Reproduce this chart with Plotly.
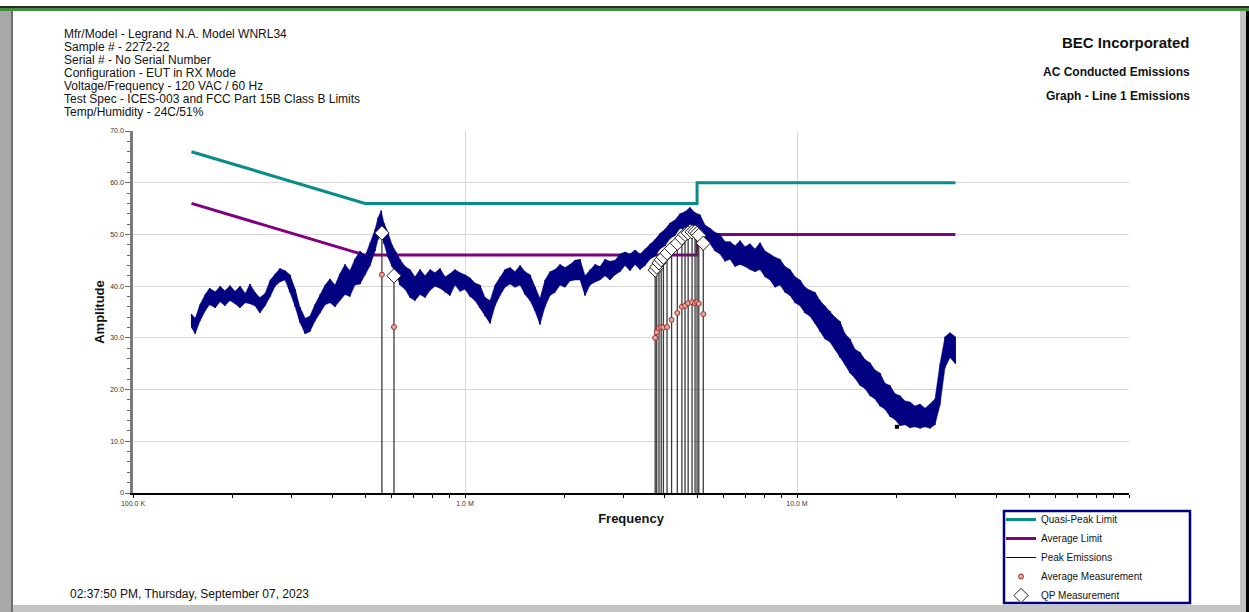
import plotly.graph_objects as go

# ---------------------------------------------------------------------------
# Peak scan (frequency in MHz, lower / upper edge of the noisy trace in dBuV)
# ---------------------------------------------------------------------------
peak_freq_mhz = [
    0.150, 0.154, 0.159, 0.165, 0.170, 0.177, 0.183, 0.189, 0.196, 0.203,
    0.210, 0.218, 0.225, 0.233, 0.241, 0.250, 0.259, 0.268, 0.277, 0.287,
    0.297, 0.308, 0.318, 0.330, 0.341, 0.353, 0.366, 0.379, 0.392, 0.406,
    0.420, 0.435, 0.450, 0.466, 0.483, 0.500, 0.518, 0.536, 0.547, 0.559,
    0.570, 0.586, 0.603, 0.620, 0.637, 0.660, 0.683, 0.707, 0.732, 0.758,
    0.785, 0.812, 0.841, 0.871, 0.901, 0.933, 0.966, 1.000, 1.035, 1.072,
    1.110, 1.149, 1.190, 1.232, 1.275, 1.320, 1.367, 1.415, 1.465, 1.516,
    1.570, 1.625, 1.682, 1.742, 1.803, 1.867, 1.933, 2.001, 2.072, 2.145,
    2.221, 2.299, 2.380, 2.464, 2.551, 2.641, 2.734, 2.831, 2.931, 3.034,
    3.141, 3.252, 3.367, 3.486, 3.608, 3.736, 3.867, 4.004, 4.145, 4.291,
    4.443, 4.599, 4.762, 4.930, 5.104, 5.284, 5.470, 5.663, 5.863, 6.070,
    6.284, 6.506, 6.735, 6.973, 7.219, 7.474, 7.737, 8.010, 8.293, 8.585,
    8.888, 9.202, 9.526, 9.862, 10.21, 10.57, 10.94, 11.33, 11.73, 12.14,
    12.57, 13.01, 13.47, 13.95, 14.44, 14.95, 15.48, 16.02, 16.59, 17.17,
    17.78, 18.41, 19.06, 19.73, 20.43, 21.15, 21.89, 22.67, 23.47, 24.30,
    25.15, 26.04, 26.96, 27.91, 28.90, 30.00,
]
peak_low_db = [
    32.0, 30.8, 33.2, 35.2, 36.4, 35.8, 37.0, 36.2, 37.2, 36.6,
    35.8, 36.8, 36.6, 36.2, 34.8, 36.2, 38.0, 40.0, 40.8, 41.2,
    38.8, 36.0, 33.0, 30.8, 31.2, 33.2, 34.8, 36.4, 36.8, 36.0,
    37.2, 38.4, 38.0, 40.2, 40.4, 42.2, 44.0, 46.8, 49.0, 50.2,
    48.2, 45.6, 43.8, 42.4, 40.2, 39.4, 37.8, 37.2, 38.4, 37.8,
    39.2, 40.0, 39.6, 38.8, 38.2, 40.2, 39.0, 39.4, 38.0, 37.2,
    35.8, 34.2, 32.8, 36.2, 38.2, 39.8, 40.4, 39.8, 40.2, 38.4,
    37.2, 35.2, 32.6, 36.0, 38.2, 38.8, 40.2, 39.8, 41.0, 41.2,
    41.2, 38.2, 40.2, 40.8, 41.2, 42.0, 41.2, 42.2, 42.8, 44.0,
    43.0, 44.2, 43.2, 44.0, 45.2, 45.8, 47.2, 47.8, 49.2, 49.8,
    51.2, 50.8, 52.0, 51.2, 50.2, 48.8, 48.2, 46.8, 46.2, 44.8,
    45.2, 43.8, 44.2, 43.8, 43.2, 42.8, 43.2, 41.8, 41.2, 39.8,
    40.2, 38.8, 38.2, 36.8, 36.2, 34.8, 34.2, 32.8, 31.2, 29.8,
    29.2, 27.8, 26.2, 24.8, 23.2, 22.2, 20.8, 20.2, 18.8, 18.2,
    16.8, 16.2, 14.8, 14.2, 13.0, 13.2, 12.6, 12.8, 12.5, 12.8,
    12.5, 13.2, 17.0, 24.2, 26.2, 25.0,
]
peak_high_db = [
    34.6, 33.8, 36.4, 38.4, 39.6, 38.9, 40.0, 39.1, 40.1, 39.0,
    40.0, 38.6, 40.4, 38.8, 37.8, 38.6, 41.2, 42.4, 43.4, 43.0,
    42.2, 39.4, 36.0, 33.8, 34.2, 36.4, 38.4, 40.2, 41.4, 40.2,
    42.4, 44.2, 43.0, 45.2, 46.8, 45.8, 48.4, 51.0, 53.2, 54.6,
    52.2, 50.4, 48.0, 46.6, 45.2, 43.8, 43.2, 41.8, 43.2, 42.0,
    43.2, 42.6, 43.4, 41.8, 42.4, 43.2, 42.6, 42.2, 41.6, 40.6,
    40.2, 37.8, 37.2, 40.2, 41.8, 43.2, 43.6, 42.8, 44.0, 42.8,
    42.2, 39.8, 37.6, 41.2, 42.8, 43.2, 44.2, 43.6, 44.2, 45.0,
    45.2, 42.0, 43.2, 44.2, 43.8, 45.2, 44.8, 45.0, 46.2, 46.6,
    46.2, 47.0, 46.2, 47.2, 48.2, 49.0, 50.2, 51.0, 52.2, 52.8,
    54.0, 54.4, 55.2, 54.2, 53.8, 51.8, 51.2, 50.4, 50.0, 48.6,
    48.6, 47.8, 48.8, 47.6, 48.2, 47.2, 48.4, 46.8, 46.2, 45.6,
    45.2, 43.8, 43.2, 41.8, 41.2, 39.8, 39.2, 38.8, 37.2, 36.2,
    35.2, 34.0, 33.2, 30.8, 29.8, 27.8, 27.2, 25.8, 25.2, 23.8,
    23.2, 21.2, 20.8, 19.2, 18.8, 17.8, 17.6, 16.8, 17.2, 16.4,
    17.2, 18.2, 25.0, 30.2, 31.0, 30.2,
]

# Regulatory limit lines (ICES-003 / FCC Part 15B Class B, conducted)
qp_limit_freq_mhz = [0.15, 0.5, 5.0, 5.0, 30.0]
qp_limit_db = [66, 56, 56, 60, 60]
avg_limit_freq_mhz = [0.15, 0.5, 5.0, 5.0, 30.0]
avg_limit_db = [56, 46, 46, 50, 50]

# Final measurements at the selected frequencies
meas_freq_mhz = [0.562, 0.611, 3.74, 3.78, 3.84, 3.90, 3.96, 4.06, 4.19,
                 4.36, 4.50, 4.60, 4.70, 4.83, 4.93, 5.00, 5.06, 5.22]
qp_meas_db = [50.3, 42.0, 43.1, 43.7, 44.5, 45.1, 45.6, 46.4, 47.3,
              48.3, 49.3, 50.0, 50.3, 50.5, 50.5, 50.2, 49.8, 48.3]
avg_meas_db = [42.2, 32.1, 30.0, 31.1, 31.9, 32.1, 32.0, 32.1, 33.5,
               34.8, 36.0, 36.2, 36.7, 36.9, 36.7, 36.9, 36.6, 34.6]

# Isolated marker on the scan floor
floor_mark_mhz = [20.0]
floor_mark_db = [12.8]

x_major_vals = [0.1, 1.0, 10.0, 100.0]
x_major_text = ["100.0 K", "1.0 M", "10.0 M", ""]
y_major_vals = [0, 10, 20, 30, 40, 50, 60, 70]
y_major_text = ["0", "10.0", "20.0", "30.0", "40.0", "50.0", "60.0", "70.0"]

header_lines = [
    "Mfr/Model - Legrand N.A. Model WNRL34",
    "Sample # - 2272-22",
    "Serial # - No Serial Number",
    "Configuration - EUT in RX Mode",
    "Voltage/Frequency - 120 VAC / 60 Hz",
    "Test Spec - ICES-003 and FCC Part 15B Class B Limits",
    "Temp/Humidity - 24C/51%",
]
company = "BEC Incorporated"
test_name = "AC Conducted Emissions"
graph_name = "Graph - Line 1 Emissions"
timestamp = "02:37:50 PM, Thursday, September 07, 2023"

# ---------------------------------------------------------------------------
W, H = 1249, 612
PL, PR, PT, PB = 133, 1129, 131, 493   # plot area in pixels
FONT = "Arial, 'Liberation Sans', sans-serif"
NAVY = "#000080"
TEAL = "#0a8c8a"
PURPLE = "#800080"


def px(xp):
    return (xp - PL) / (PR - PL)


def py(yp):
    return (PB - yp) / (PB - PT)


fig = go.Figure()

fig.add_trace(go.Scatter(
    x=qp_limit_freq_mhz, y=qp_limit_db, mode="lines", name="Quasi-Peak Limit",
    line=dict(color=TEAL, width=3)))
fig.add_trace(go.Scatter(
    x=avg_limit_freq_mhz, y=avg_limit_db, mode="lines", name="Average Limit",
    line=dict(color=PURPLE, width=3)))

# Peak trace: solid band between the two edges, with a saw-tooth stroke on top
fig.add_trace(go.Scatter(
    x=peak_freq_mhz, y=peak_low_db, mode="lines", line=dict(width=0.5, color=NAVY),
    showlegend=False, hoverinfo="skip"))
fig.add_trace(go.Scatter(
    x=peak_freq_mhz, y=peak_high_db, mode="lines", line=dict(width=0.5, color=NAVY),
    fill="tonexty", fillcolor=NAVY, showlegend=False, hoverinfo="skip"))

saw_x, saw_y = [], []
for f, lo, hi in zip(peak_freq_mhz, peak_low_db, peak_high_db):
    saw_x += [f, f]
    saw_y += [lo, hi]
fig.add_trace(go.Scatter(
    x=saw_x, y=saw_y, mode="lines", name="Peak Emissions",
    line=dict(color=NAVY, width=1)))

fig.add_trace(go.Scatter(
    x=floor_mark_mhz, y=floor_mark_db, mode="markers", showlegend=False,
    marker=dict(symbol="square", size=4, color="black")))

# Stems from the axis up to each QP reading
stem_x, stem_y = [], []
for f, q in zip(meas_freq_mhz, qp_meas_db):
    stem_x += [f, f, None]
    stem_y += [0, q, None]
fig.add_trace(go.Scatter(
    x=stem_x, y=stem_y, mode="lines", showlegend=False, hoverinfo="skip",
    line=dict(color="#3a3a3a", width=1.3)))

fig.add_trace(go.Scatter(
    x=meas_freq_mhz, y=avg_meas_db, mode="markers", name="Average Measurement",
    marker=dict(symbol="circle", size=5, color="#e7a8a0",
                line=dict(color="#a0302a", width=1))))
fig.add_trace(go.Scatter(
    x=meas_freq_mhz, y=qp_meas_db, mode="markers", name="QP Measurement",
    marker=dict(symbol="diamond", size=11, color="white",
                line=dict(color="#202020", width=1))))

fig.update_xaxes(
    type="log", range=[-1, 2],
    tickmode="array", tickvals=x_major_vals, ticktext=x_major_text,
    ticks="outside", ticklen=3, tickcolor="black", tickwidth=1,
    tickfont=dict(family=FONT, size=7, color="#333333"),
    showgrid=True, gridcolor="#d8d8d8", gridwidth=1,
    showline=True, linecolor="black", linewidth=1.5,
    zeroline=False,
    minor=dict(tickmode="array",
               tickvals=[m * d for d in (0.1, 1.0, 10.0) for m in range(2, 10)],
               ticks="outside", ticklen=3, tickcolor="black", showgrid=False),
    title=dict(text="<b>Frequency</b>", font=dict(family=FONT, size=13, color="#111"),
               standoff=8),
)
fig.update_yaxes(
    range=[0, 70],
    tickmode="array", tickvals=y_major_vals, ticktext=y_major_text,
    ticks="outside", ticklen=5, tickcolor="#666666", tickwidth=1,
    tickfont=dict(family=FONT, size=7, color="#333333"),
    showgrid=True, gridcolor="#d8d8d8", gridwidth=1,
    showline=True, linecolor="#7a7a7a", linewidth=2.5,
    zeroline=False,
    minor=dict(dtick=2, ticks="outside", ticklen=3, tickcolor="#666666",
               showgrid=False),
    title=dict(text="<b>Amplitude</b>", font=dict(family=FONT, size=13, color="#111"),
               standoff=3),
)

annotations = []
for i, line in enumerate(header_lines):
    annotations.append(dict(
        x=px(62), y=py(34 + 13 * i), xref="paper", yref="paper",
        text=line, showarrow=False, xanchor="left", yanchor="middle",
        font=dict(family=FONT, size=12, color="#111111")))
annotations.append(dict(
    x=px(1192), y=py(43), xref="paper", yref="paper", text="<b>%s</b>" % company,
    showarrow=False, xanchor="right", yanchor="middle",
    font=dict(family=FONT, size=15, color="#111111")))
annotations.append(dict(
    x=px(1192), y=py(72), xref="paper", yref="paper", text="<b>%s</b>" % test_name,
    showarrow=False, xanchor="right", yanchor="middle",
    font=dict(family=FONT, size=12, color="#111111")))
annotations.append(dict(
    x=px(1192), y=py(96), xref="paper", yref="paper", text="<b>%s</b>" % graph_name,
    showarrow=False, xanchor="right", yanchor="middle",
    font=dict(family=FONT, size=12, color="#111111")))
annotations.append(dict(
    x=px(68), y=py(594), xref="paper", yref="paper", text=timestamp,
    showarrow=False, xanchor="left", yanchor="middle",
    font=dict(family=FONT, size=12, color="#111111")))

# Window frame around the page, and the box holding the legend
shapes = [
    dict(type="rect", xref="paper", yref="paper", x0=px(0), x1=px(W), y0=py(6), y1=py(8),
         fillcolor="#2a2a2a", line=dict(width=0)),
    dict(type="rect", xref="paper", yref="paper", x0=px(0), x1=px(W), y0=py(8), y1=py(11),
         fillcolor="#3f8f3f", line=dict(width=0)),
    dict(type="rect", xref="paper", yref="paper", x0=px(0), x1=px(11), y0=py(11), y1=py(H),
         fillcolor="#a8a8a8", line=dict(width=0)),
    dict(type="rect", xref="paper", yref="paper", x0=px(11), x1=px(13), y0=py(11), y1=py(H),
         fillcolor="#6e6e6e", line=dict(width=0)),
    dict(type="rect", xref="paper", yref="paper", x0=px(1240), x1=px(1246), y0=py(11), y1=py(H),
         fillcolor="#c4c4c4", line=dict(width=0)),
    dict(type="rect", xref="paper", yref="paper", x0=px(1246), x1=px(W), y0=py(11), y1=py(H),
         fillcolor="#000000", line=dict(width=0)),
    dict(type="rect", xref="paper", yref="paper", x0=px(13), x1=px(1240), y0=py(605), y1=py(H),
         fillcolor="#c4c4c4", line=dict(width=0)),
    dict(type="rect", xref="paper", yref="paper", x0=px(1004), x1=px(1190), y0=py(511), y1=py(603),
         fillcolor="white", line=dict(color=NAVY, width=2.5), layer="above"),
]

fig.update_layout(
    width=W, height=H, autosize=False,
    margin=dict(l=PL, r=W - PR, t=PT, b=H - PB, pad=0, autoexpand=False),
    paper_bgcolor="white", plot_bgcolor="white",
    font=dict(family=FONT, size=10, color="#111111"),
    showlegend=True,
    legend=dict(
        x=px(1001), y=py(505), xanchor="left", yanchor="top",
        bgcolor="rgba(0,0,0,0)", borderwidth=0,
        font=dict(family=FONT, size=10, color="#111111"),
        traceorder="normal",
        tracegroupgap=0, itemwidth=30,
    ),
    annotations=annotations,
    shapes=shapes,
    hovermode=False,
)

fig.write_html("out.html")
